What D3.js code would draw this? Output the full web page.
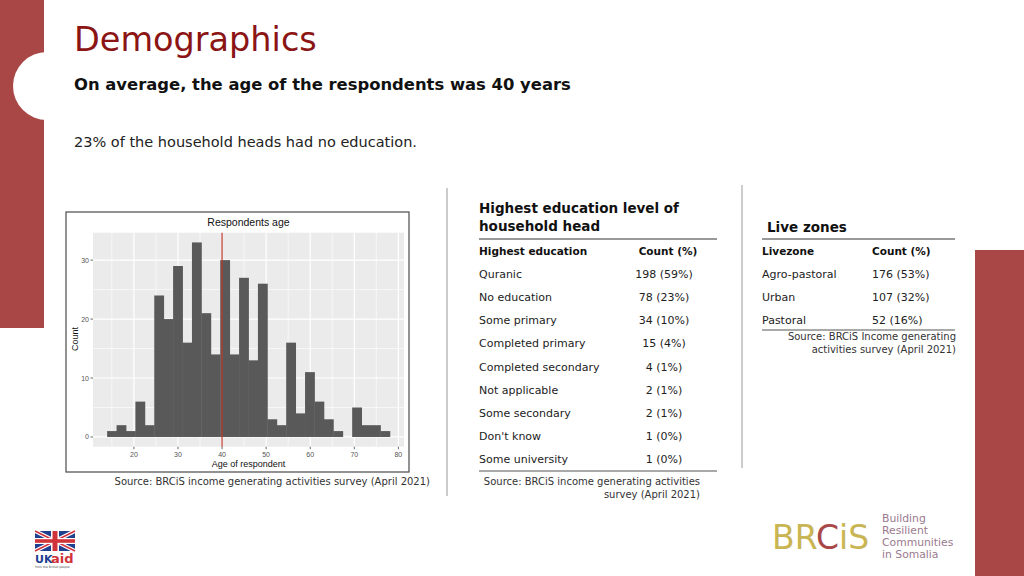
<!DOCTYPE html>
<html><head><meta charset="utf-8">
<script src="https://cdn.jsdelivr.net/npm/d3@7"></script>
<style>body{margin:0;background:#fff}svg{display:block}</style>
</head><body>
<script>
// ---------- DATA ----------
const ageCounts = [1,2,1,6,2,24,20,29,16,33,21,14,30,14,27,13,26,3,2,16,4,11,6,3,1,0,5,2,2,1];
const ageMin = 15, ageMax = 77;          // youngest / oldest respondent
const meanAge = 40;
const xTicks = [20,30,40,50,60,70,80];
const yTicks = [0,10,20,30];

const eduLevels = ["Quranic","No education","Some primary","Completed primary","Completed secondary","Not applicable","Some secondary","Don't know","Some university"];
const eduCounts = ["198 (59%)","78 (23%)","34 (10%)","15 (4%)","4 (1%)","2 (1%)","2 (1%)","1 (0%)","1 (0%)"];

const zones = ["Agro-pastoral","Urban","Pastoral"];
const zoneCounts = ["176 (53%)","107 (32%)","52 (16%)"];

// ---------- PAGE ----------
const W = 1024, H = 576;
const RED = "#A94747";
const FONT = "'DejaVu Sans', sans-serif";
const svg = d3.select("body").append("svg").attr("width", W).attr("height", H);

svg.append("rect").attr("x",0).attr("y",0).attr("width",44).attr("height",328).attr("fill",RED);
svg.append("circle").attr("cx",47).attr("cy",86).attr("r",34).attr("fill","#fff");
svg.append("rect").attr("x",975).attr("y",250).attr("width",49).attr("height",326).attr("fill",RED);

svg.append("text").attr("x",74).attr("y",51).text("Demographics")
  .attr("font-family",FONT).attr("font-size",33.5).attr("fill","#8B1414");
svg.append("text").attr("x",74).attr("y",90).text("On average, the age of the respondents was 40 years")
  .attr("font-family",FONT).attr("font-weight","bold").attr("font-size",16.4).attr("fill","#111");
svg.append("text").attr("x",74).attr("y",147).text("23% of the household heads had no education.")
  .attr("font-family",FONT).attr("font-size",14.5).attr("fill","#222");

svg.append("line").attr("x1",447).attr("x2",447).attr("y1",188).attr("y2",496).attr("stroke","#999").attr("stroke-width",1);
svg.append("line").attr("x1",742).attr("x2",742).attr("y1",185).attr("y2",468).attr("stroke","#999").attr("stroke-width",1);

// ---------- HISTOGRAM ----------
const nBins = ageCounts.length;
const bw = (ageMax - ageMin) / (nBins - 1);
const start = ageMin - bw/2, end = ageMax + bw/2;
const xpad = (end - start) * 0.05;
const ymax = d3.max(ageCounts), ypad = ymax * 0.05;
const px0 = 93, px1 = 404, py0 = 232.7, py1 = 446.7;
const x = d3.scaleLinear().domain([start - xpad, end + xpad]).range([px0, px1]);
const y = d3.scaleLinear().domain([-ypad, ymax + ypad]).range([py1, py0]);
const AF = "'Liberation Sans', Arial, sans-serif";

const g = svg.append("g");
g.append("rect").attr("x",66).attr("y",212).attr("width",343).attr("height",260)
  .attr("fill","#fff").attr("stroke","#4a4a4a").attr("stroke-width",1.2);
g.append("rect").attr("x",px0).attr("y",py0).attr("width",px1-px0).attr("height",py1-py0).attr("fill","#EBEBEB");
const xMinor = xTicks.slice(0,-1).map(t => t + 5).concat([xTicks[0]-5]);
const yMinor = yTicks.slice(0,-1).map(t => t + 5);
g.selectAll(".xm").data(xMinor).join("line").attr("x1",d=>x(d)).attr("x2",d=>x(d)).attr("y1",py0).attr("y2",py1).attr("stroke","#fff").attr("stroke-width",0.6);
g.selectAll(".ym").data(yMinor).join("line").attr("y1",d=>y(d)).attr("y2",d=>y(d)).attr("x1",px0).attr("x2",px1).attr("stroke","#fff").attr("stroke-width",0.6);
g.selectAll(".xg").data(xTicks).join("line").attr("x1",d=>x(d)).attr("x2",d=>x(d)).attr("y1",py0).attr("y2",py1).attr("stroke","#fff").attr("stroke-width",1.2);
g.selectAll(".yg").data(yTicks).join("line").attr("y1",d=>y(d)).attr("y2",d=>y(d)).attr("x1",px0).attr("x2",px1).attr("stroke","#fff").attr("stroke-width",1.2);
g.selectAll(".bar").data(ageCounts).join("rect")
  .attr("x",(d,i)=>x(start + i*bw)).attr("width",x(start+bw)-x(start)+0.4)
  .attr("y",d=>y(d)).attr("height",d=>y(0)-y(d)).attr("fill","#595959");
g.append("line").attr("x1",x(meanAge)).attr("x2",x(meanAge)).attr("y1",py0).attr("y2",py1).attr("stroke","#C0392B").attr("stroke-width",1.2);
g.selectAll(".xt").data(xTicks).join("line").attr("x1",d=>x(d)).attr("x2",d=>x(d)).attr("y1",py1).attr("y2",py1+2.5).attr("stroke","#444").attr("stroke-width",0.8);
g.selectAll(".yt").data(yTicks).join("line").attr("y1",d=>y(d)).attr("y2",d=>y(d)).attr("x1",px0-2.5).attr("x2",px0).attr("stroke","#444").attr("stroke-width",0.8);
g.selectAll(".xl").data(xTicks).join("text").attr("x",d=>x(d)).attr("y",457).attr("text-anchor","middle")
  .attr("font-family",AF).attr("font-size",7).attr("fill","#555").text(d=>d);
g.selectAll(".yl").data(yTicks).join("text").attr("x",px0-4).attr("y",d=>y(d)+2.5).attr("text-anchor","end")
  .attr("font-family",AF).attr("font-size",7).attr("fill","#555").text(d=>d);
g.append("text").attr("x",(px0+px1)/2).attr("y",226).attr("text-anchor","middle").text("Respondents age")
  .attr("font-family",AF).attr("font-size",10.5).attr("fill","#111");
g.append("text").attr("x",(px0+px1)/2).attr("y",467).attr("text-anchor","middle").text("Age of respondent")
  .attr("font-family",AF).attr("font-size",9).attr("fill","#111");
g.append("text").attr("transform","translate(78,339) rotate(-90)").attr("text-anchor","middle").text("Count")
  .attr("font-family",AF).attr("font-size",9).attr("fill","#111");
svg.append("text").attr("x",430).attr("y",485).attr("text-anchor","end")
  .text("Source: BRCiS income generating activities survey (April 2021)")
  .attr("font-family",FONT).attr("font-size",10).attr("fill","#333");

// ---------- EDUCATION TABLE ----------
const FS = 11;
const T = svg.append("g").attr("font-family",FONT);
T.append("text").attr("x",479).attr("y",213).attr("font-weight","bold").attr("font-size",13.5).attr("fill","#111").text("Highest education level of");
T.append("text").attr("x",479).attr("y",231).attr("font-weight","bold").attr("font-size",13.5).attr("fill","#111").text("household head");
T.append("line").attr("x1",479).attr("x2",717).attr("y1",239).attr("y2",239).attr("stroke","#777").attr("stroke-width",1.6);
T.append("text").attr("x",479).attr("y",255).attr("font-weight","bold").attr("font-size",10.5).attr("fill","#111").text("Highest education");
T.append("text").attr("x",668).attr("y",255).attr("text-anchor","middle").attr("font-weight","bold").attr("font-size",10.5).attr("fill","#111").text("Count (%)");
const rowY = d3.scaleBand().domain(eduLevels).range([262, 471]);
T.selectAll(".el").data(eduLevels).join("text").attr("x",479).attr("y",d=>rowY(d)+rowY.bandwidth()/2+4)
  .attr("font-size",FS).attr("fill","#222").text(d=>d);
T.selectAll(".ec").data(eduCounts).join("text").attr("x",664).attr("y",(d,i)=>rowY(eduLevels[i])+rowY.bandwidth()/2+4)
  .attr("text-anchor","middle").attr("font-size",FS).attr("fill","#222").text(d=>d);
T.append("line").attr("x1",479).attr("x2",717).attr("y1",471).attr("y2",471).attr("stroke","#555").attr("stroke-width",1.2);
T.append("text").attr("x",700).attr("y",485).attr("text-anchor","end").attr("font-size",10).attr("fill","#333").text("Source: BRCiS income generating activities");
T.append("text").attr("x",700).attr("y",498).attr("text-anchor","end").attr("font-size",10).attr("fill","#333").text("survey (April 2021)");

// ---------- LIVE ZONES TABLE ----------
const Z = svg.append("g").attr("font-family",FONT);
Z.append("text").attr("x",767).attr("y",232).attr("font-weight","bold").attr("font-size",13.5).attr("fill","#111").text("Live zones");
Z.append("line").attr("x1",762).attr("x2",955).attr("y1",239).attr("y2",239).attr("stroke","#777").attr("stroke-width",1.6);
Z.append("text").attr("x",762).attr("y",255).attr("font-weight","bold").attr("font-size",10.5).attr("fill","#111").text("Livezone");
Z.append("text").attr("x",872).attr("y",255).attr("font-weight","bold").attr("font-size",10.5).attr("fill","#111").text("Count (%)");
const zY = d3.scaleBand().domain(zones).range([262, 331]);
Z.selectAll(".zl").data(zones).join("text").attr("x",762).attr("y",d=>zY(d)+zY.bandwidth()/2+4)
  .attr("font-size",FS).attr("fill","#222").text(d=>d);
Z.selectAll(".zc").data(zoneCounts).join("text").attr("x",872).attr("y",(d,i)=>zY(zones[i])+zY.bandwidth()/2+4)
  .attr("font-size",FS).attr("fill","#222").text(d=>d);
Z.append("line").attr("x1",762).attr("x2",955).attr("y1",330).attr("y2",330).attr("stroke","#555").attr("stroke-width",1.2);
Z.append("text").attr("x",956).attr("y",340).attr("text-anchor","end").attr("font-size",10).attr("fill","#333").text("Source: BRCiS Income generating");
Z.append("text").attr("x",956).attr("y",353).attr("text-anchor","end").attr("font-size",10).attr("fill","#333").text("activities survey (April 2021)");

// ---------- LOGOS ----------
const uk = svg.append("g").attr("transform","translate(35,531)");
uk.append("rect").attr("width",40).attr("height",20).attr("fill","#1F3F8F");
uk.append("line").attr("x1",0).attr("y1",0).attr("x2",40).attr("y2",20).attr("stroke","#fff").attr("stroke-width",4);
uk.append("line").attr("x1",40).attr("y1",0).attr("x2",0).attr("y2",20).attr("stroke","#fff").attr("stroke-width",4);
uk.append("line").attr("x1",0).attr("y1",0).attr("x2",40).attr("y2",20).attr("stroke","#D0343A").attr("stroke-width",1.4);
uk.append("line").attr("x1",40).attr("y1",0).attr("x2",0).attr("y2",20).attr("stroke","#D0343A").attr("stroke-width",1.4);
uk.append("rect").attr("x",16).attr("width",8).attr("height",20).attr("fill","#fff");
uk.append("rect").attr("y",7).attr("width",40).attr("height",6).attr("fill","#fff");
uk.append("rect").attr("x",17.5).attr("width",5).attr("height",20).attr("fill","#D0343A");
uk.append("rect").attr("y",8.2).attr("width",40).attr("height",3.6).attr("fill","#D0343A");
uk.append("text").attr("x",0).attr("y",32).attr("font-family",FONT).attr("font-weight","bold").attr("font-size",11).attr("fill","#1F3F8F").text("UK");
uk.append("text").attr("x",16).attr("y",32).attr("font-family",FONT).attr("font-weight","bold").attr("font-size",13).attr("fill","#D0343A").text("aid");
uk.append("text").attr("x",0).attr("y",37).attr("font-family",FONT).attr("font-size",3).attr("fill","#444").text("from the British people");

const br = svg.append("g");
br.append("text").attr("x",772).attr("y",549).attr("font-family",FONT).attr("font-size",33).attr("fill","#C9B554")
  .selectAll("tspan").data([["BR","#C9B554"],["C","#A94747"],["iS","#C9B554"]]).join("tspan").attr("fill",d=>d[1]).text(d=>d[0]);
const tagline = ["Building","Resilient","Communities","in Somalia"];
br.selectAll(".tl").data(tagline).join("text").attr("x",882).attr("y",(d,i)=>522+i*12)
  .attr("font-family",FONT).attr("font-size",10.8).attr("fill","#9A7A8E").text(d=>d);
</script>
</body></html>
